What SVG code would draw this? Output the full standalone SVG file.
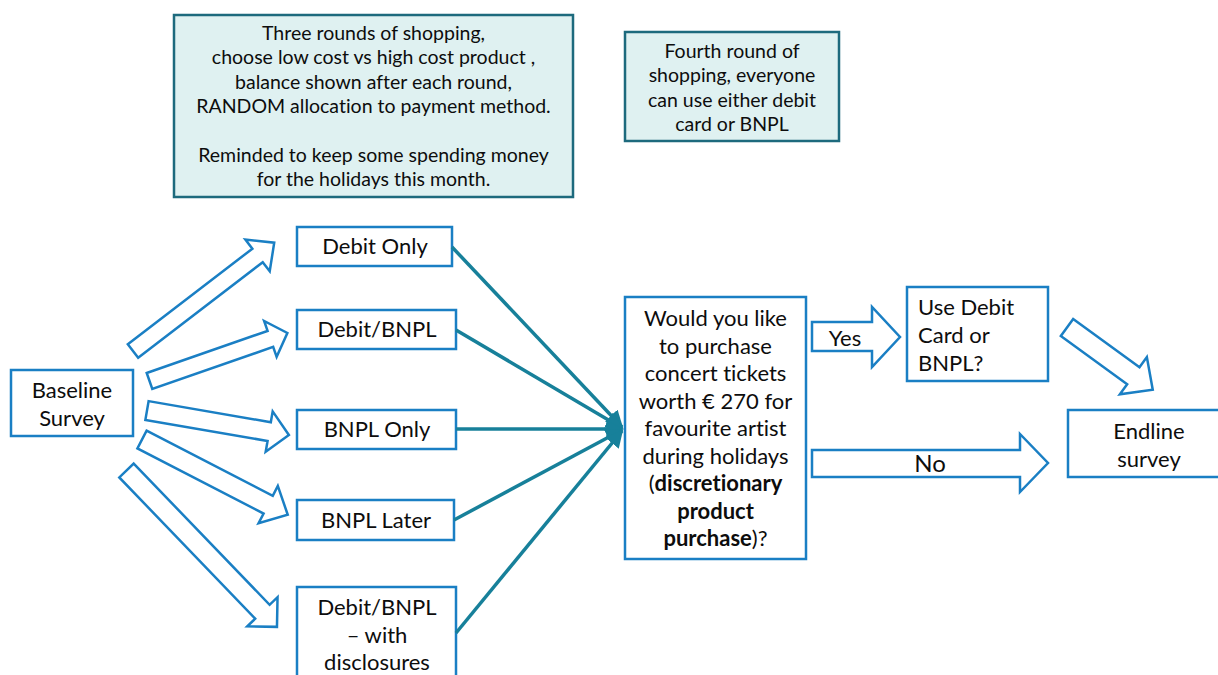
<svg xmlns="http://www.w3.org/2000/svg" width="1218" height="675" viewBox="0 0 1218 675">
<style>
.note{fill:#dff1f1;stroke:#1d6a7d;stroke-width:2.5}
.box{fill:#ffffff;stroke:#1a7fc4;stroke-width:2.5}
.blk{fill:#ffffff;stroke:#1a7fc4;stroke-width:2.5;stroke-linejoin:miter}
.con{stroke:#17809a;stroke-width:3.5;fill:none}
text{font-family:Lato,"Open Sans","Liberation Sans",sans-serif;fill:#0d0d0d;font-variant-ligatures:none}
.t20{font-size:19.5px;text-anchor:middle}
.t22{font-size:22px;text-anchor:middle}
.b{font-weight:bold}
</style>
<defs>
<marker id="ah" markerWidth="5" markerHeight="5" refX="4.5" refY="2.5" orient="auto" markerUnits="strokeWidth">
<path d="M0,0 L5,2.5 L0,5 Z" fill="#17809a"/>
</marker>
</defs>
<rect width="1218" height="675" fill="#ffffff"/>

<g id="note-three-rounds">
<rect class="note" x="174" y="15" width="399" height="182"/>
<text class="t20" x="373.5" y="40">Three rounds of shopping,</text>
<text class="t20" x="373.5" y="64">choose low cost vs high cost product ,</text>
<text class="t20" x="373.5" y="89">balance shown after each round,</text>
<text class="t20" x="373.5" y="113">RANDOM allocation to payment method.</text>
<text class="t20" x="373.5" y="162">Reminded to keep some spending money</text>
<text class="t20" x="373.5" y="186">for the holidays this month.</text>
</g>

<g id="note-fourth-round">
<rect class="note" x="625" y="32" width="214" height="109"/>
<text class="t20" x="732" y="58">Fourth round of</text>
<text class="t20" x="732" y="82">shopping, everyone</text>
<text class="t20" x="732" y="107">can use either debit</text>
<text class="t20" x="732" y="131">card or BNPL</text>
</g>

<g id="baseline">
<rect class="box" x="11" y="370" width="122" height="66"/>
<text class="t22" x="72" y="398">Baseline</text>
<text class="t22" x="72" y="426">Survey</text>
</g>

<g id="debit-only">
<rect class="box" x="297" y="227" width="155" height="39"/>
<text class="t22" x="375" y="254">Debit Only</text>
</g>

<g id="debit-bnpl">
<rect class="box" x="297" y="310" width="159" height="39"/>
<text class="t22" x="377" y="337">Debit/BNPL</text>
</g>

<g id="bnpl-only">
<rect class="box" x="297" y="410" width="159" height="39"/>
<text class="t22" x="377" y="437">BNPL Only</text>
</g>

<g id="bnpl-later">
<rect class="box" x="297" y="500" width="157" height="40"/>
<text class="t22" x="376" y="528">BNPL Later</text>
</g>

<g id="debit-bnpl-disclosures">
<rect class="box" x="297" y="587" width="159" height="100"/>
<text class="t22" x="377" y="615">Debit/BNPL</text>
<text class="t22" x="377" y="643">– with</text>
<text class="t22" x="377" y="670">disclosures</text>
</g>

<g id="question">
<rect class="box" x="625" y="297" width="181" height="262"/>
<text class="t22" x="715.5" y="326">Would you like</text>
<text class="t22" x="715.5" y="354">to purchase</text>
<text class="t22" x="715.5" y="381">concert tickets</text>
<text class="t22" x="715.5" y="409">worth € 270 for</text>
<text class="t22" x="715.5" y="436">favourite artist</text>
<text class="t22" x="715.5" y="464">during holidays</text>
<text class="t22" x="715.5" y="491">(<tspan class="b">discretionary</tspan></text>
<text class="t22 b" x="715.5" y="519">product</text>
<text class="t22" x="715.5" y="546"><tspan class="b">purchase</tspan>)?</text>
</g>

<g id="use-debit">
<rect class="box" x="907" y="287" width="141" height="94"/>
<text font-size="22px" x="918" y="315">Use Debit</text>
<text font-size="22px" x="918" y="343">Card or</text>
<text font-size="22px" x="918" y="371">BNPL?</text>
</g>

<g id="endline">
<rect class="box" x="1068" y="410" width="160" height="67"/>
<text class="t22" x="1149" y="439">Endline</text>
<text class="t22" x="1149" y="467">survey</text>
</g>

<g id="connectors">
<path class="blk" transform="translate(133,351) rotate(-37.5)" d="M0,-8.5 L157,-8.5 L157,-20 L178,0 L157,20 L157,8.5 L0,8.5 Z"/>
<path class="blk" transform="translate(149.5,381) rotate(-19.2)" d="M0,-8.5 L128,-8.5 L128,-19 L146,0 L128,19 L128,8.5 L0,8.5 Z"/>
<path class="blk" transform="translate(147,410.5) rotate(9.8)" d="M0,-9.5 L124,-9.5 L124,-20.5 L144,0 L124,20.5 L124,9.5 L0,9.5 Z"/>
<path class="blk" transform="translate(142,439.5) rotate(27.3)" d="M0,-10 L142,-10 L142,-21 L164,0 L142,21 L142,10 L0,10 Z"/>
<path class="blk" transform="translate(126.5,470.5) rotate(46.1)" d="M0,-10 L196,-10 L196,-21 L217,0 L196,21 L196,10 L0,10 Z"/>
<path class="blk" transform="translate(1067,327.5) rotate(36)" d="M0,-10.5 L82,-10.5 L82,-23 L106,0 L82,23 L82,10.5 L0,10.5 Z"/>
<path class="blk" d="M812,322 L872,322 L872,307 L900,337 L872,367 L872,351 L812,351 Z"/>
<path class="blk" d="M812,450 L1020,450 L1020,434 L1048,463 L1020,492 L1020,477 L812,477 Z"/>
<line class="con" x1="452" y1="247" x2="622" y2="427" marker-end="url(#ah)"/>
<line class="con" x1="456" y1="330" x2="622" y2="428" marker-end="url(#ah)"/>
<line class="con" x1="456" y1="429" x2="622" y2="429" marker-end="url(#ah)"/>
<line class="con" x1="454" y1="520" x2="622" y2="430" marker-end="url(#ah)"/>
<line class="con" x1="456" y1="633" x2="622" y2="431" marker-end="url(#ah)"/>
<text font-size="22px" x="845" y="346" text-anchor="middle">Yes</text>
<text font-size="24px" x="930" y="472" text-anchor="middle">No</text>
</g>
</svg>
